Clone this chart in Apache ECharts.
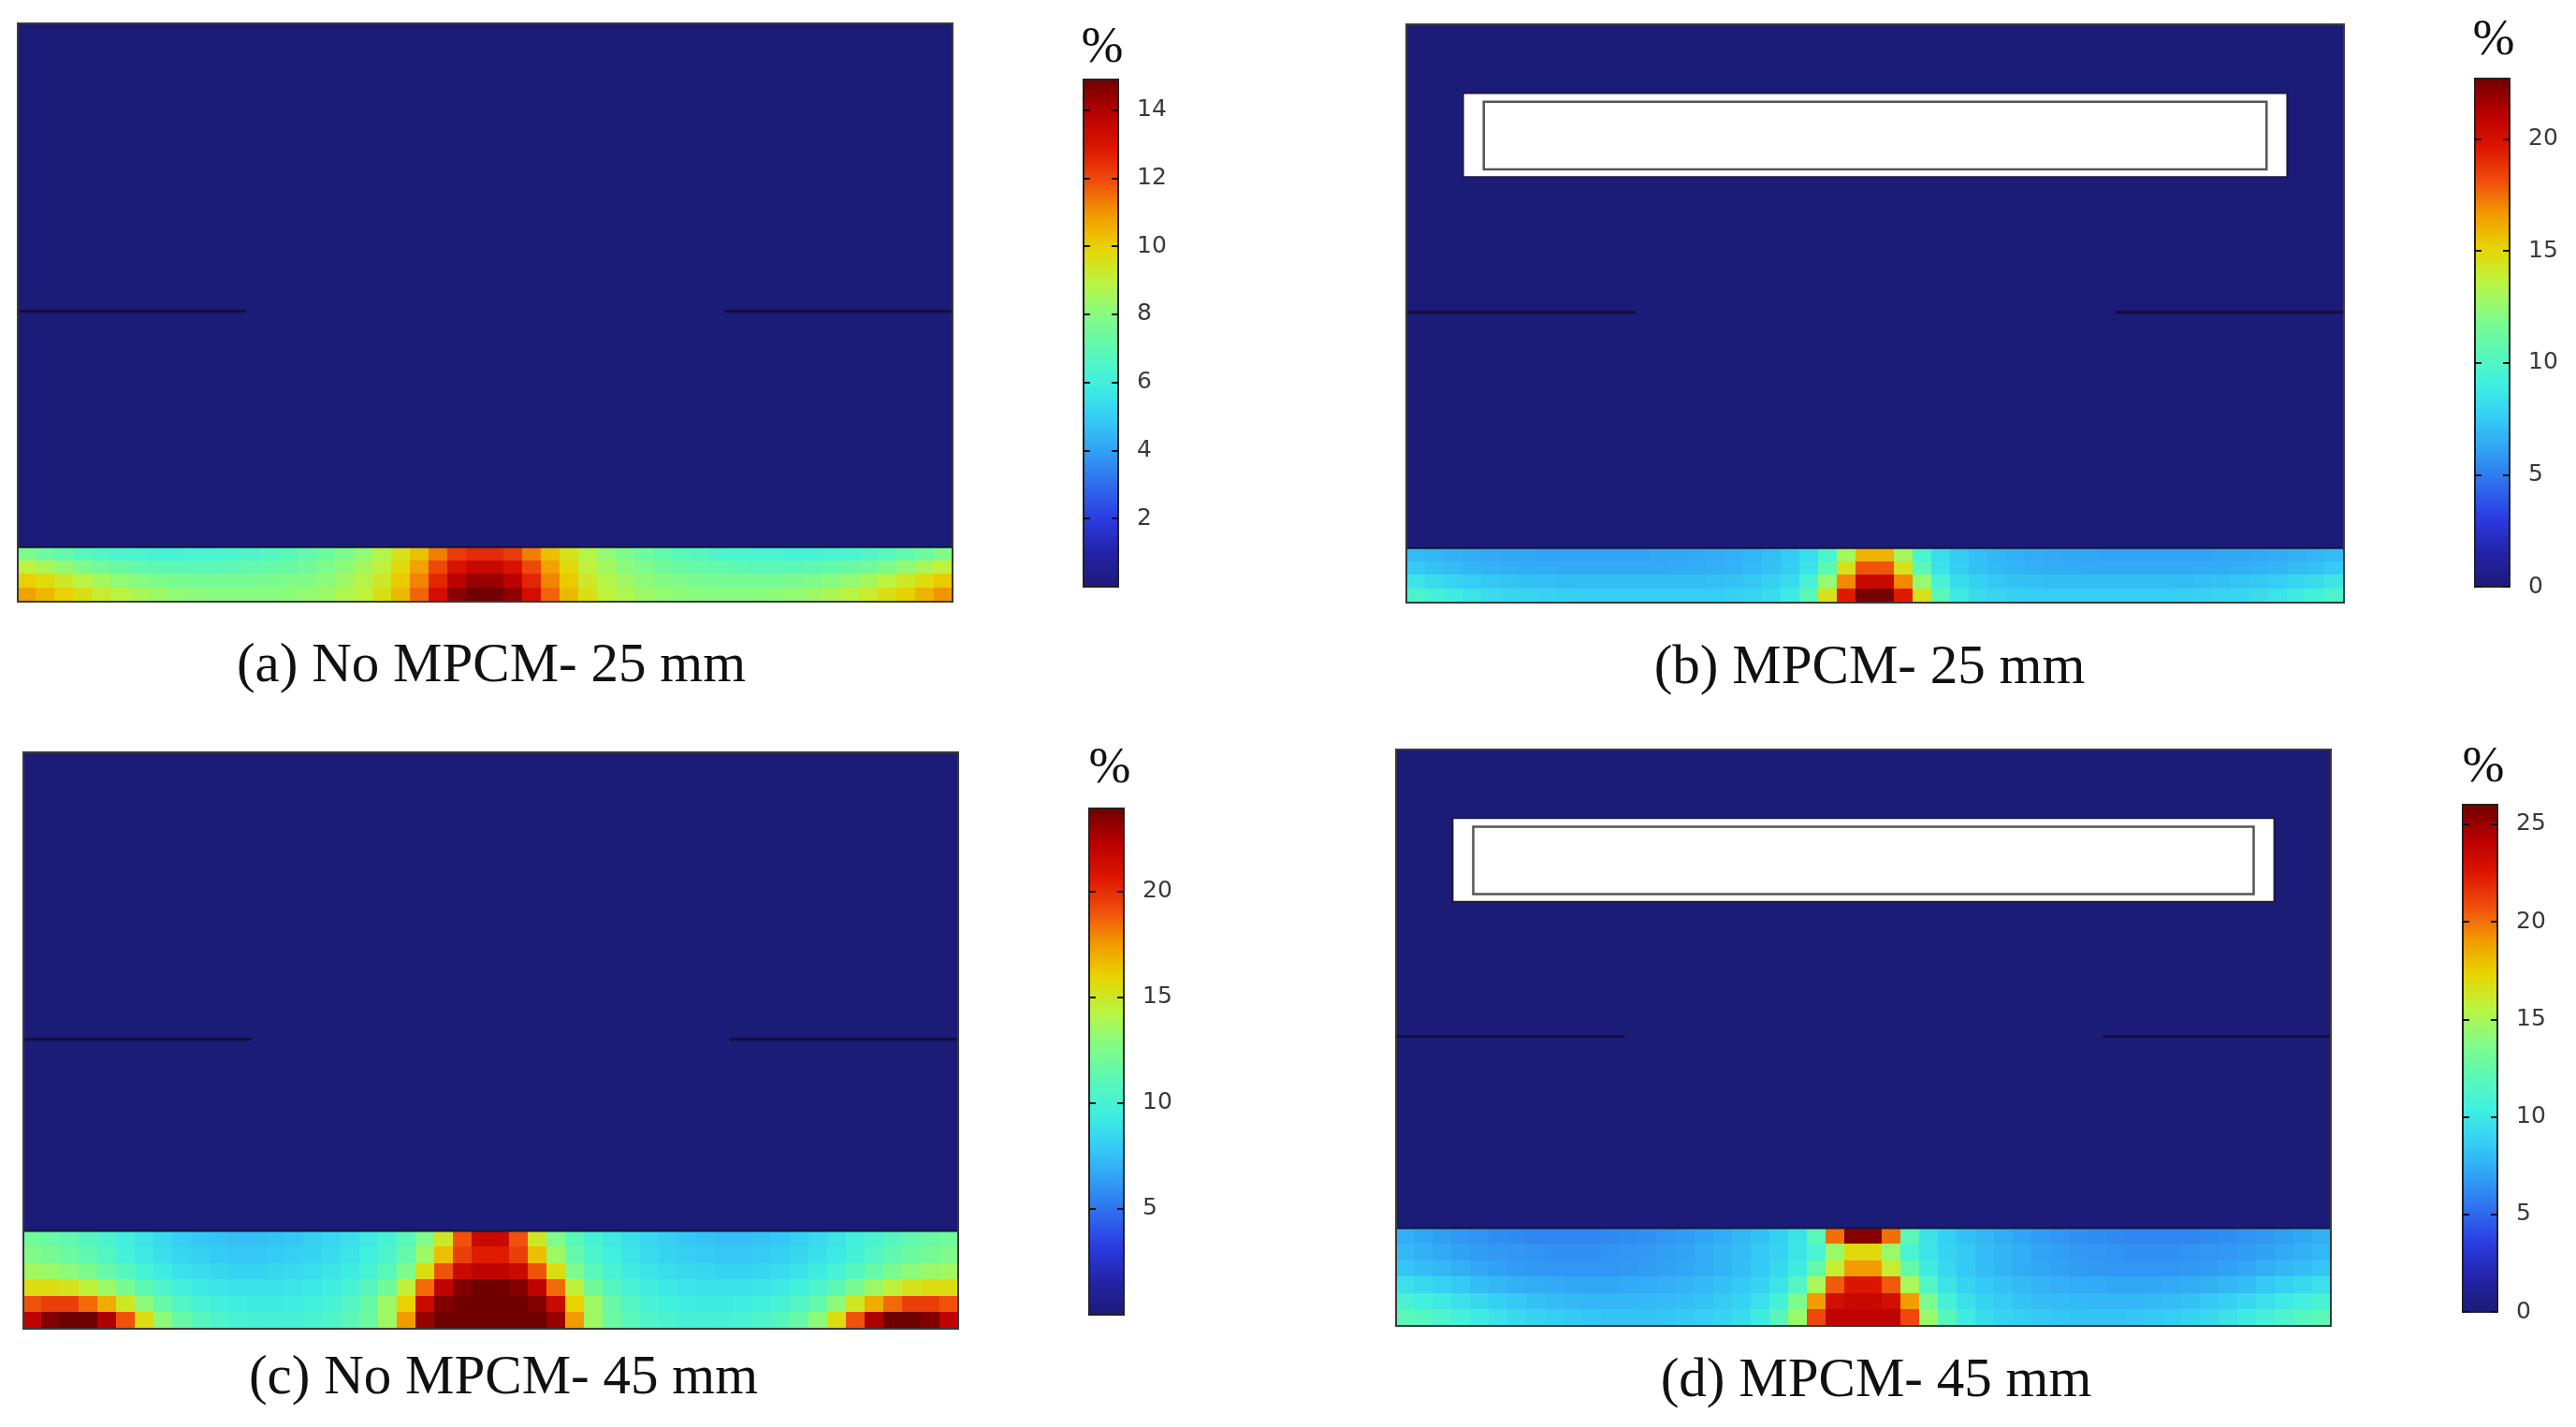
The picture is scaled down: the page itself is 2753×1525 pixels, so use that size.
<!DOCTYPE html>
<html>
<head>
<meta charset="UTF-8">
<title>MPCM contours</title>
<script src="https://cdn.jsdelivr.net/npm/echarts@6/dist/echarts.min.js"></script>
<style>
  html, body { margin: 0; padding: 0; background: #fff; }
  #main { width: 2753px; height: 1525px; }
</style>
</head>
<body>
<div id="main"></div>
<script type="text/javascript">
// domain in mm (width x height), baffles and MPCM box
var domainW = 430, domainH = 265;
var baffleY = 133, baffleLen = 105;
var mpcmOuter = [26, 404, 195, 233.5];
var mpcmInner = [35.5, 394.5, 198.5, 229.5];
var layers = [25, 25, 45, 45];

// percent values in the bottom layer, rows top -> bottom, 50 columns left -> right
var stripA = [
  [7.8,7.4,7.1,6.8,6.6,6.4,6.3,6.2,6.2,6.3,6.3,6.4,6.5,6.7,6.9,7.1,7.4,7.8,8.2,8.8,9.5,10.3,11.3,12.2,12.5,12.5,12.2,11.3,10.3,9.5,8.8,8.2,7.8,7.4,7.1,6.9,6.7,6.5,6.4,6.3,6.3,6.2,6.2,6.3,6.4,6.6,6.8,7.1,7.4,7.8],
  [9.0,8.6,8.2,7.8,7.5,7.3,7.1,7.0,6.9,6.9,6.9,7.0,7.1,7.2,7.3,7.5,7.8,8.1,8.5,9.0,9.8,10.8,12.0,13.0,13.5,13.5,13.0,12.0,10.8,9.8,9.0,8.5,8.1,7.8,7.5,7.3,7.2,7.1,7.0,6.9,6.9,6.9,7.0,7.1,7.3,7.5,7.8,8.2,8.6,9.0],
  [10.0,9.7,9.3,8.9,8.5,8.2,8.0,7.8,7.7,7.6,7.6,7.6,7.6,7.7,7.8,7.9,8.1,8.4,8.8,9.3,10.1,11.2,12.6,13.8,14.3,14.3,13.8,12.6,11.2,10.1,9.3,8.8,8.4,8.1,7.9,7.8,7.7,7.6,7.6,7.6,7.6,7.7,7.8,8.0,8.2,8.5,8.9,9.3,9.7,10.1],
  [10.8,10.4,10.0,9.6,9.2,8.9,8.6,8.4,8.2,8.1,8.0,8.0,8.0,8.0,8.1,8.2,8.4,8.7,9.0,9.6,10.4,11.6,13.2,14.5,14.9,14.9,14.5,13.2,11.6,10.4,9.6,9.0,8.7,8.4,8.2,8.1,8.0,8.0,8.0,8.0,8.1,8.2,8.4,8.6,8.9,9.2,9.6,10.0,10.5,11.0]
];
var stripB = [
  [7.0,6.8,6.6,6.5,6.4,6.3,6.3,6.2,6.2,6.2,6.2,6.2,6.2,6.3,6.3,6.4,6.5,6.6,6.8,7.1,7.5,8.3,9.7,13.0,16.0,16.0,13.0,9.7,8.3,7.5,7.1,6.8,6.6,6.5,6.4,6.3,6.3,6.2,6.2,6.2,6.2,6.2,6.2,6.3,6.3,6.4,6.5,6.6,6.8,7.0],
  [7.5,7.2,7.0,6.8,6.7,6.6,6.5,6.5,6.4,6.4,6.4,6.4,6.4,6.4,6.5,6.5,6.6,6.7,6.9,7.2,7.6,8.5,10.5,14.5,18.0,18.0,14.5,10.5,8.5,7.6,7.2,6.9,6.7,6.6,6.5,6.5,6.4,6.4,6.4,6.4,6.4,6.4,6.5,6.5,6.6,6.7,6.8,7.0,7.2,7.5],
  [8.6,8.2,7.9,7.6,7.4,7.3,7.2,7.1,7.0,7.0,7.0,7.0,7.0,7.0,7.0,7.0,7.1,7.2,7.4,7.7,8.2,9.5,12.5,17.0,20.5,20.5,17.0,12.5,9.5,8.2,7.7,7.4,7.2,7.1,7.0,7.0,7.0,7.0,7.0,7.0,7.0,7.0,7.1,7.2,7.3,7.4,7.6,7.9,8.2,8.6],
  [9.8,9.3,8.9,8.5,8.2,8.0,7.9,7.8,7.7,7.6,7.6,7.6,7.6,7.6,7.6,7.6,7.6,7.7,7.9,8.2,8.8,10.5,14.5,19.5,22.6,22.6,19.5,14.5,10.5,8.8,8.2,7.9,7.7,7.6,7.6,7.6,7.6,7.6,7.6,7.6,7.6,7.7,7.8,7.9,8.0,8.2,8.5,8.9,9.3,9.8]
];
var stripC = [
  [12.0,11.7,11.3,10.8,10.2,9.6,9.0,8.5,8.1,7.8,7.6,7.5,7.5,7.6,7.8,8.1,8.4,8.8,9.3,10.0,11.0,12.5,15.0,19.0,21.5,21.5,19.0,15.0,12.5,11.0,10.0,9.3,8.8,8.4,8.1,7.8,7.6,7.5,7.5,7.6,7.8,8.1,8.5,9.0,9.6,10.2,10.8,11.3,11.7,12.0],
  [12.5,12.2,11.8,11.3,10.6,9.9,9.3,8.8,8.4,8.1,7.9,7.8,7.8,7.9,8.1,8.3,8.6,9.0,9.6,10.3,11.5,13.5,16.5,19.5,20.5,20.5,19.5,16.5,13.5,11.5,10.3,9.6,9.0,8.6,8.3,8.1,7.9,7.8,7.8,7.9,8.1,8.4,8.8,9.3,9.9,10.6,11.3,11.8,12.2,12.5],
  [13.6,13.4,13.0,12.4,11.6,10.8,10.0,9.4,8.9,8.6,8.4,8.3,8.3,8.4,8.5,8.7,9.0,9.4,10.0,11.0,12.5,15.5,19.0,21.5,22.0,22.0,21.5,19.0,15.5,12.5,11.0,10.0,9.4,9.0,8.7,8.5,8.4,8.3,8.3,8.4,8.6,8.9,9.4,10.0,10.8,11.6,12.4,13.0,13.4,13.6],
  [15.5,15.5,15.2,14.5,13.5,12.3,11.2,10.3,9.7,9.3,9.0,8.9,8.9,8.9,9.0,9.2,9.5,10.0,10.8,12.0,14.5,18.5,22.0,23.5,23.9,23.9,23.5,22.0,18.5,14.5,12.0,10.8,10.0,9.5,9.2,9.0,8.9,8.9,8.9,9.0,9.3,9.7,10.3,11.2,12.3,13.5,14.5,15.2,15.5,15.5],
  [19.0,19.5,19.5,18.5,17.0,15.0,13.0,11.5,10.6,10.0,9.7,9.5,9.4,9.4,9.5,9.7,10.0,10.6,11.6,13.5,16.0,21.5,23.5,23.9,23.9,23.9,23.9,23.5,21.5,16.0,13.5,11.6,10.6,10.0,9.7,9.5,9.4,9.4,9.5,9.7,10.0,10.6,11.5,13.0,15.0,17.0,18.5,19.5,19.5,19.0],
  [22.0,23.5,23.9,23.9,22.5,19.0,15.5,13.0,11.6,10.8,10.3,10.0,9.9,9.8,9.9,10.1,10.4,11.0,11.8,13.5,17.5,23.0,23.9,23.9,23.9,23.9,23.9,23.9,23.0,17.5,13.5,11.8,11.0,10.4,10.1,9.9,9.8,9.9,10.0,10.3,10.8,11.6,13.0,15.5,19.0,22.5,23.9,23.9,23.5,22.0]
];
var stripD = [
  [7.5,7.2,6.9,6.7,6.5,6.3,6.2,6.1,6.1,6.1,6.1,6.2,6.3,6.4,6.6,6.8,7.1,7.4,7.8,8.2,8.8,9.7,12.0,20.0,25.5,25.5,20.0,12.0,9.7,8.8,8.2,7.8,7.4,7.1,6.8,6.6,6.4,6.3,6.2,6.1,6.1,6.1,6.1,6.2,6.3,6.5,6.7,6.9,7.2,7.5],
  [7.9,7.6,7.3,7.0,6.8,6.7,6.6,6.5,6.4,6.4,6.4,6.5,6.6,6.7,6.9,7.1,7.4,7.7,8.0,8.5,9.0,9.8,11.0,14.5,17.0,17.0,14.5,11.0,9.8,9.0,8.5,8.0,7.7,7.4,7.1,6.9,6.7,6.6,6.5,6.4,6.4,6.4,6.5,6.6,6.7,6.8,7.0,7.3,7.6,7.9],
  [8.4,8.1,7.8,7.5,7.2,7.0,6.8,6.7,6.6,6.6,6.6,6.6,6.7,6.8,7.0,7.2,7.4,7.7,8.1,8.5,9.2,10.2,12.5,16.0,19.0,19.0,16.0,12.5,10.2,9.2,8.5,8.1,7.7,7.4,7.2,7.0,6.8,6.7,6.6,6.6,6.6,6.6,6.7,6.8,7.0,7.2,7.5,7.8,8.1,8.4],
  [9.6,9.3,8.9,8.5,8.1,7.8,7.6,7.4,7.3,7.2,7.2,7.2,7.3,7.4,7.5,7.7,7.9,8.2,8.5,9.0,9.8,11.5,15.0,20.5,22.5,22.5,20.5,15.0,11.5,9.8,9.0,8.5,8.2,7.9,7.7,7.5,7.4,7.3,7.2,7.2,7.2,7.3,7.4,7.6,7.8,8.1,8.5,8.9,9.3,9.6],
  [10.9,10.5,10.1,9.6,9.2,8.8,8.5,8.2,8.0,7.9,7.8,7.8,7.8,7.9,8.0,8.1,8.3,8.6,9.0,9.6,10.8,13.5,19.0,23.0,23.5,23.5,23.0,19.0,13.5,10.8,9.6,9.0,8.6,8.3,8.1,8.0,7.9,7.8,7.8,7.8,7.9,8.0,8.2,8.5,8.8,9.2,9.6,10.1,10.5,10.9],
  [12.0,11.7,11.2,10.7,10.2,9.7,9.3,9.0,8.7,8.5,8.4,8.3,8.3,8.3,8.4,8.5,8.7,9.0,9.4,10.2,11.8,14.5,21.0,24.0,24.0,24.0,24.0,21.0,14.5,11.8,10.2,9.4,9.0,8.7,8.5,8.4,8.3,8.3,8.3,8.4,8.5,8.7,9.0,9.3,9.7,10.2,10.7,11.2,11.7,12.0]
];

var scaleMax = [14.9, 22.7, 23.9, 26];
var ticksA = [2, 4, 6, 8, 10, 12, 14];
var ticksB = [0, 5, 10, 15, 20];
var ticksC = [5, 10, 15, 20];
var ticksD = [0, 5, 10, 15, 20, 25];
var captions = ['(a) No MPCM- 25 mm', '(b) MPCM- 25 mm', '(c) No MPCM- 45 mm', '(d) MPCM- 45 mm'];

var jet = ['#1b1b78', '#2323a8', '#2b3be0', '#2f6cee', '#31a0f5', '#35cdf5', '#40f0e0', '#5cf8b4',
           '#84fc84', '#bcf440', '#e8d400', '#f29a00', '#f04c0c', '#dc1400', '#b80000', '#700000'];

var panels = [
  { strip: stripA, layer: layers[0], mpcm: false, max: scaleMax[0], ticks: ticksA, caption: captions[0],
    grid: [19, 25, 999, 618], bar: [1158, 85, 37, 542], pct: [1178, 52], cap: [525, 712] },
  { strip: stripB, layer: layers[1], mpcm: true, max: scaleMax[1], ticks: ticksB, caption: captions[1],
    grid: [1503, 26, 1002, 618], bar: [2645, 84, 37, 543], pct: [2665, 44], cap: [1998, 714] },
  { strip: stripC, layer: layers[2], mpcm: false, max: scaleMax[2], ticks: ticksC, caption: captions[2],
    grid: [25, 804, 999, 616], bar: [1164, 864, 37, 541], pct: [1186, 822], cap: [538, 1473] },
  { strip: stripD, layer: layers[3], mpcm: true, max: scaleMax[3], ticks: ticksD, caption: captions[3],
    grid: [1492, 801, 999, 616], bar: [2632, 860, 37, 542], pct: [2654, 821], cap: [2005, 1476] }
];

function buildCells(strip, layer) {
  var cells = [[0, domainW, layer, domainH, 0]]; // air above the layer, ~0 %
  var nRow = strip.length, nCol = strip[0].length;
  for (var i = 0; i < nRow; i++) {
    for (var j = 0; j < nCol; j++) {
      cells.push([j * domainW / nCol, (j + 1) * domainW / nCol,
                  layer - (i + 1) * layer / nRow, layer - i * layer / nRow, strip[i][j]]);
    }
  }
  return cells;
}

function renderCell(params, api) {
  var a = api.coord([api.value(0), api.value(3)]);
  var b = api.coord([api.value(1), api.value(2)]);
  var x0 = Math.floor(a[0]), y0 = Math.floor(a[1]);
  return {
    type: 'rect',
    shape: { x: x0, y: y0, width: Math.ceil(b[0]) - x0, height: Math.ceil(b[1]) - y0 },
    style: { fill: api.visual('color') }
  };
}

function renderBox(params, api) {
  var a = api.coord([api.value(0), api.value(3)]);
  var b = api.coord([api.value(1), api.value(2)]);
  var inner = params.dataIndex > 0;
  return {
    type: 'rect',
    shape: { x: a[0], y: a[1], width: b[0] - a[0], height: b[1] - a[1] },
    style: { fill: '#fff', stroke: inner ? '#555' : '#1a1a3c', lineWidth: inner ? 2.5 : 2 }
  };
}

function renderFrame(params, api) {
  var a = api.coord([api.value(0), api.value(3)]);
  var b = api.coord([api.value(1), api.value(2)]);
  return {
    type: 'rect',
    shape: { x: a[0], y: a[1], width: b[0] - a[0], height: b[1] - a[1] },
    style: { fill: 'none', stroke: '#3a3a3a', lineWidth: 2 }
  };
}

var grids = [], xAxes = [], yAxes = [], series = [], visualMaps = [], graphics = [];
var lineSt = { color: '#10103a', width: 3 };

panels.forEach(function (p) {
  // field panel
  var gi = grids.length, xi = xAxes.length, yi = yAxes.length;
  grids.push({ left: p.grid[0], top: p.grid[1], width: p.grid[2], height: p.grid[3], containLabel: false });
  xAxes.push({ gridIndex: gi, type: 'value', min: 0, max: domainW, show: false });
  yAxes.push({ gridIndex: gi, type: 'value', min: 0, max: domainH, show: false });
  var ax = { xAxisIndex: xi, yAxisIndex: yi };

  var fieldIndex = series.length;
  series.push(Object.assign({
    type: 'custom', renderItem: renderCell,
    encode: { x: [0, 1], y: [2, 3] }, data: buildCells(p.strip, p.layer), z: 2
  }, ax));
  if (p.mpcm) {
    series.push(Object.assign({
      type: 'custom', renderItem: renderBox,
      encode: { x: [0, 1], y: [2, 3] }, data: [mpcmOuter, mpcmInner], z: 4
    }, ax));
  }
  series.push(Object.assign({ type: 'line', symbol: 'none', z: 5,
    data: [[0, baffleY], [baffleLen, baffleY]], lineStyle: lineSt }, ax));
  series.push(Object.assign({ type: 'line', symbol: 'none', z: 5,
    data: [[domainW - baffleLen, baffleY], [domainW, baffleY]], lineStyle: lineSt }, ax));
  series.push(Object.assign({ type: 'line', symbol: 'none', z: 5,
    data: [[0, p.layer], [domainW, p.layer]], lineStyle: { color: '#15153a', width: 2 } }, ax));
  series.push(Object.assign({
    type: 'custom', renderItem: renderFrame,
    encode: { x: [0, 1], y: [2, 3] }, data: [[0, domainW, 0, domainH]], z: 6
  }, ax));

  visualMaps.push({
    type: 'continuous', min: 0, max: p.max, seriesIndex: fieldIndex, dimension: 4,
    inRange: { color: jet }, calculable: false, hoverLink: false, orient: 'vertical',
    left: p.bar[0], top: p.bar[1], itemWidth: p.bar[2], itemHeight: p.bar[3],
    padding: 0, z: 2
  });

  // colour bar axes
  var ci = grids.length;
  grids.push({ left: p.bar[0], top: p.bar[1], width: p.bar[2], height: p.bar[3],
    show: true, borderColor: '#222', borderWidth: 2, backgroundColor: 'transparent', z: 5 });
  xAxes.push({ gridIndex: ci, type: 'value', min: 0, max: 1, show: false });
  var tickSt = { show: true, inside: true, length: 7, customValues: p.ticks, lineStyle: { color: '#111', width: 2 } };
  yAxes.push({ gridIndex: ci, type: 'value', min: 0, max: p.max, position: 'left', z: 6,
    axisLine: { show: false }, splitLine: { show: false }, axisTick: tickSt, axisLabel: { show: false } });
  yAxes.push({ gridIndex: ci, type: 'value', min: 0, max: p.max, position: 'right', z: 6,
    axisLine: { show: false }, splitLine: { show: false }, axisTick: tickSt,
    axisLabel: { show: true, customValues: p.ticks, margin: 20, fontSize: 25,
      fontFamily: 'DejaVu Sans', color: '#3a3a3a' } });

  graphics.push({ type: 'text', x: p.pct[0], y: p.pct[1],
    style: { text: '%', font: '54px "Liberation Serif"', fill: '#111', align: 'center', verticalAlign: 'middle' } });
  graphics.push({ type: 'text', x: p.cap[0], y: p.cap[1],
    style: { text: p.caption, font: '59px "Liberation Serif"', fill: '#111', align: 'center', verticalAlign: 'middle' } });
});

var myChart = echarts.init(document.getElementById('main'));
myChart.setOption({
  animation: false,
  backgroundColor: '#fff',
  grid: grids,
  xAxis: xAxes,
  yAxis: yAxes,
  visualMap: visualMaps,
  series: series,
  graphic: graphics
});
</script>
</body>
</html>
